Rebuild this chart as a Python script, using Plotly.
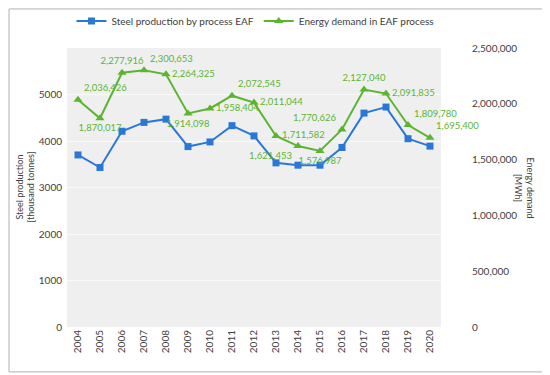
import plotly.graph_objects as go

years = [str(y) for y in range(2004, 2021)]
steel = [3700, 3430, 4210, 4400, 4470, 3880, 3980, 4330, 4110, 3530, 3480, 3480, 3860, 4600, 4730, 4050, 3890]
energy = [2036426, 1870017, 2277916, 2300653, 2264325, 1914098, 1958404, 2072545, 2011044,
          1711582, 1621453, 1576987, 1770626, 2127040, 2091835, 1809780, 1695400]
energy_text = [f"{v:,}" for v in energy]
label_pos = ["top right", "bottom center", "top center", "top right", "middle right",
             "bottom center", "middle right", "top right", "middle right", "middle right",
             "bottom left", "bottom center", "top left", "top center", "middle right",
             "top right", "top right"]

blue = "#2a78d6"
green = "#5cb531"
txt = "#404040"
font = "Lato"

fig = go.Figure()
fig.add_trace(go.Scatter(
    x=years, y=steel, name="Steel production by process EAF",
    mode="lines+markers", line=dict(color=blue, width=2),
    marker=dict(symbol="square", size=7, color=blue), yaxis="y", cliponaxis=False))
fig.add_trace(go.Scatter(
    x=years, y=energy, name="Energy demand in EAF process",
    mode="lines+markers+text", line=dict(color=green, width=2),
    marker=dict(symbol="triangle-up", size=8, color=green),
    text=energy_text, textposition=label_pos, cliponaxis=False,
    textfont=dict(color=green, size=9.5, family=font), yaxis="y2"))

# page has an 8px body margin: paper origin sits at (8, 8)
fig.update_layout(
    width=542, height=367,
    margin=dict(l=59, r=109, t=40, b=48, autoexpand=False),
    paper_bgcolor="white", plot_bgcolor="#efefef",
    font=dict(family=font, color=txt, size=10),
    showlegend=True,
    legend=dict(orientation="h", x=0.012, xanchor="left", y=1.097, yanchor="middle",
                font=dict(size=10, color=txt), bgcolor="rgba(0,0,0,0)",
                itemwidth=30, tracegroupgap=0),
    xaxis=dict(type="category", range=[-0.5, 16.5], tickangle=-90, showgrid=False,
               zeroline=False, showline=False, ticks="", tickfont=dict(size=10, color=txt)),
    yaxis=dict(range=[0, 6000], tickvals=[0, 1000, 2000, 3000, 4000, 5000],
               showgrid=True, gridcolor="#fafafa", gridwidth=1, zeroline=False,
               ticks="", tickfont=dict(size=10, color=txt), ticklabelstandoff=4),
    yaxis2=dict(range=[0, 2500000], overlaying="y", side="right", showgrid=False,
                zeroline=False, tickvals=[0, 500000, 1000000, 1500000, 2000000, 2500000],
                tickformat=",d", ticks="", tickfont=dict(size=10, color=txt),
                ticklabelstandoff=30),
    annotations=[
        dict(text="Steel production<br>[thousand tonnes]", textangle=-90, x=-0.112, y=0.5,
             xanchor="center", yanchor="middle",
             xref="paper", yref="paper", showarrow=False, font=dict(size=9, color=txt)),
        dict(text="Energy demand<br>[MWh]", textangle=90, x=1.222, y=0.5,
             xanchor="center", yanchor="middle",
             xref="paper", yref="paper", showarrow=False, font=dict(size=9, color=txt)),
    ],
    shapes=[dict(type="rect", xref="paper", yref="paper", x0=-0.155, x1=1.283,
                 y0=-0.161, y1=1.14, line=dict(color="#b0b0b0", width=1))],
)

fig.write_html("out.html")
